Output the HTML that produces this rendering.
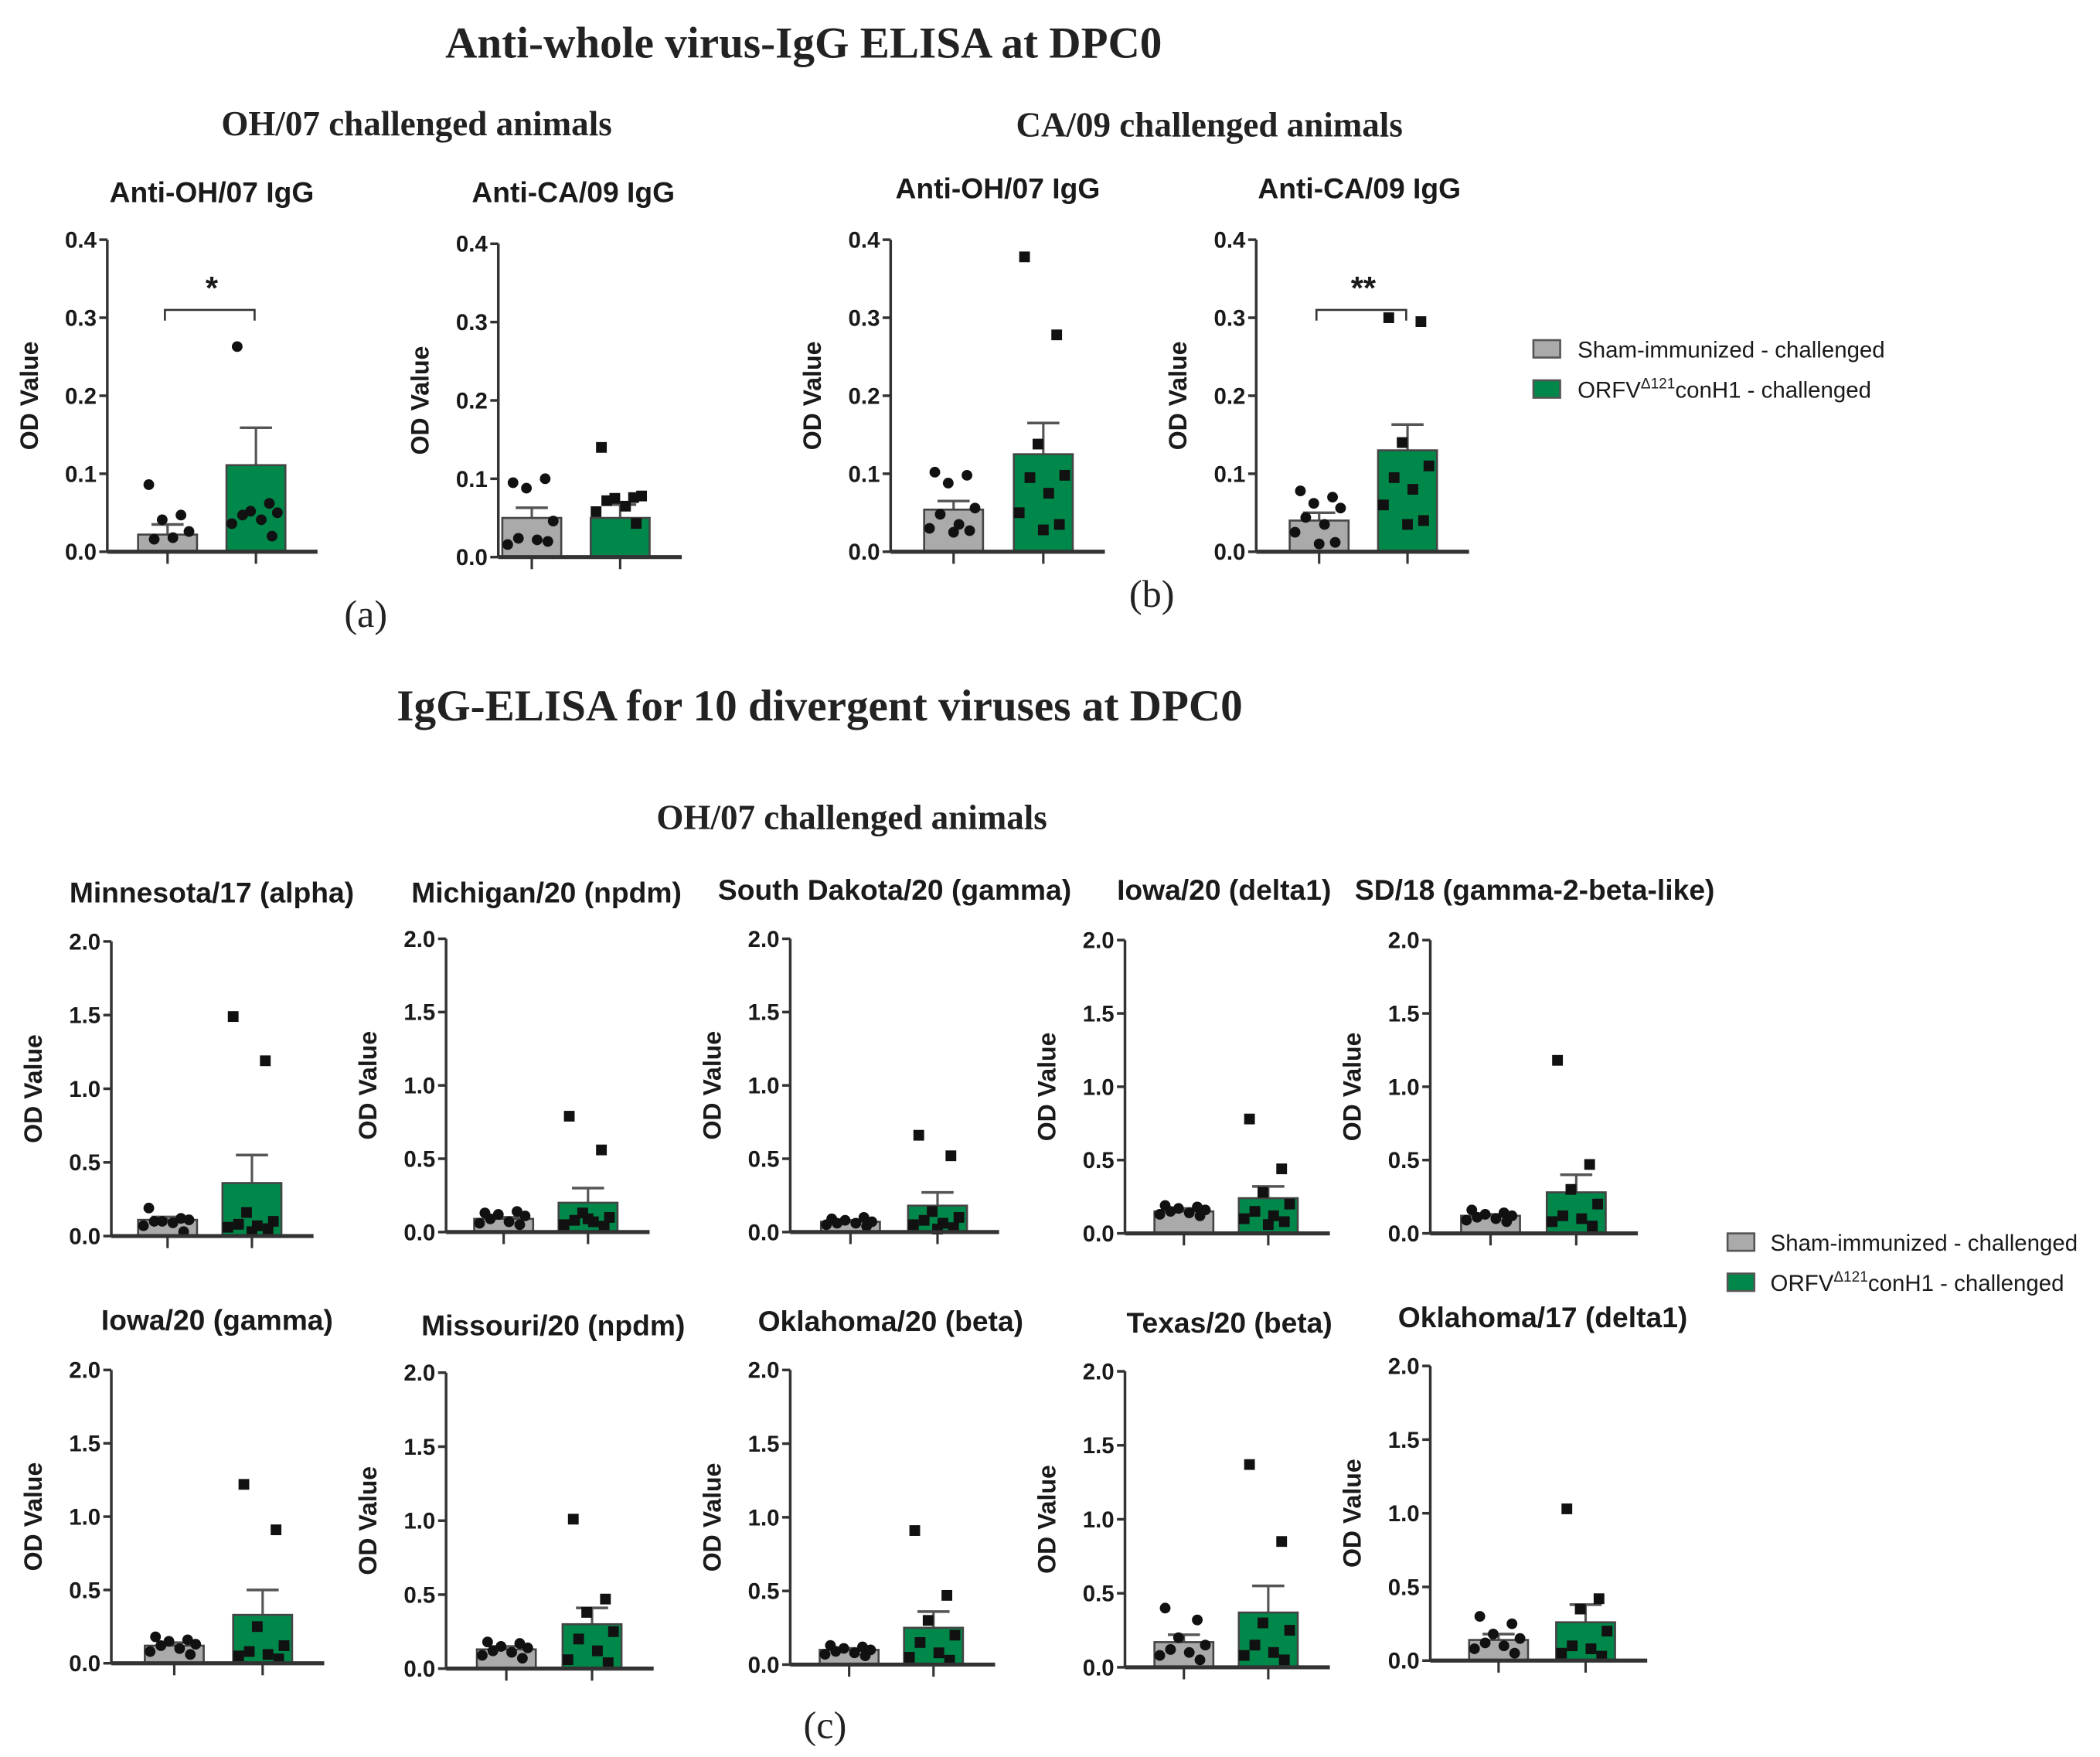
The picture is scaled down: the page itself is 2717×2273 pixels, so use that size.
<!DOCTYPE html>
<html><head><meta charset="utf-8"><style>
html,body{margin:0;padding:0;background:#fff;}
svg{display:block;}
.serif{font-family:"Liberation Serif",serif;fill:#222;}
.sans{font-family:"Liberation Sans",sans-serif;fill:#1a1a1a;}
</style></head><body>
<svg id="fig" width="2717" height="2273" viewBox="0 0 1568 1312" xmlns="http://www.w3.org/2000/svg">
<text class="serif" x="600" y="43" font-size="33" font-weight="bold" text-anchor="middle">Anti-whole virus-IgG ELISA at DPC0</text>
<text class="serif" x="311" y="101" font-size="26" font-weight="bold" text-anchor="middle">OH/07 challenged animals</text>
<text class="serif" x="903" y="102" font-size="26" font-weight="bold" text-anchor="middle">CA/09 challenged animals</text>
<text class="serif" x="273" y="468" font-size="29" text-anchor="middle">(a)</text>
<text class="serif" x="860" y="453" font-size="29" text-anchor="middle">(b)</text>
<text class="serif" x="612" y="538" font-size="33" font-weight="bold" text-anchor="middle">IgG-ELISA for 10 divergent viruses at DPC0</text>
<text class="serif" x="636" y="619" font-size="26" font-weight="bold" text-anchor="middle">OH/07 challenged animals</text>
<text class="serif" x="616" y="1298" font-size="29" text-anchor="middle">(c)</text>

<g>
<rect x="1145" y="254" width="20" height="13" fill="#aaa" stroke="#555" stroke-width="1.5"/>
<text class="sans" x="1178" y="267" font-size="17">Sham-immunized - challenged</text>
<rect x="1145" y="284" width="20" height="13" fill="#00884a" stroke="#555" stroke-width="1.5"/>
<text class="sans" x="1178" y="297" font-size="17">ORFV<tspan dy="-7" font-size="11">Δ121</tspan><tspan dy="7">conH1 - challenged</tspan></text>
</g>
<g>
<rect x="1290" y="921" width="20" height="13" fill="#aaa" stroke="#555" stroke-width="1.5"/>
<text class="sans" x="1322" y="934" font-size="17">Sham-immunized - challenged</text>
<rect x="1290" y="951" width="20" height="13" fill="#00884a" stroke="#555" stroke-width="1.5"/>
<text class="sans" x="1322" y="964" font-size="17">ORFV<tspan dy="-7" font-size="11">Δ121</tspan><tspan dy="7">conH1 - challenged</tspan></text>
</g>
</svg>
<script>
// ---- data ----
const panelTitles = ["Anti-OH/07 IgG","Anti-CA/09 IgG","Anti-OH/07 IgG","Anti-CA/09 IgG",
 "Minnesota/17 (alpha)","Michigan/20 (npdm)","South Dakota/20 (gamma)","Iowa/20 (delta1)","SD/18 (gamma-2-beta-like)",
 "Iowa/20 (gamma)","Missouri/20 (npdm)","Oklahoma/20 (beta)","Texas/20 (beta)","Oklahoma/17 (delta1)"];
const yMax = [0.4,0.4,0.4,0.4,2,2,2,2,2,2,2,2,2,2];
const tickLabelsSmall = ["0.0","0.1","0.2","0.3","0.4"];
const tickValuesSmall = [0,0.1,0.2,0.3,0.4];
const tickLabelsLarge = ["0.0","0.5","1.0","1.5","2.0"];
const tickValuesLarge = [0,0.5,1,1.5,2];
const shamMean = [0.022,0.050,0.054,0.040, 0.11,0.09,0.07,0.15,0.12, 0.12,0.13,0.10,0.17,0.14];
const shamSem  = [0.013,0.013,0.011,0.010, 0.02,0.01,0.01,0.02,0.01, 0.02,0.02,0.01,0.05,0.04];
const orfvMean = [0.111,0.050,0.125,0.130, 0.36,0.20,0.18,0.24,0.28, 0.33,0.30,0.25,0.37,0.26];
const orfvSem  = [0.048,0.017,0.040,0.033, 0.19,0.10,0.09,0.08,0.12, 0.17,0.11,0.11,0.18,0.12];
const orfvShape = ["circle","rect","rect","rect","rect","rect","rect","rect","rect","rect","rect","rect","rect","rect"];
const shamPoints = [
 [0.086,0.047,0.041,0.026,0.016,0.018],
 [0.095,0.100,0.088,0.046,0.024,0.022,0.016,0.020],
 [0.102,0.098,0.088,0.056,0.048,0.035,0.030,0.027,0.025],
 [0.078,0.070,0.062,0.056,0.044,0.035,0.025,0.012,0.010],
 [0.19,0.12,0.10,0.11,0.10,0.09,0.07,0.03],
 [0.13,0.14,0.12,0.11,0.09,0.07,0.06,0.05],
 [0.09,0.10,0.08,0.07,0.06,0.06,0.05,0.04],
 [0.19,0.18,0.17,0.16,0.15,0.14,0.13,0.12],
 [0.16,0.14,0.13,0.12,0.11,0.10,0.09,0.08],
 [0.18,0.16,0.15,0.13,0.12,0.10,0.08,0.06],
 [0.18,0.17,0.15,0.14,0.12,0.11,0.09,0.07],
 [0.13,0.12,0.11,0.10,0.09,0.08,0.07,0.06],
 [0.40,0.32,0.20,0.15,0.12,0.10,0.08,0.05],
 [0.30,0.25,0.18,0.15,0.12,0.10,0.08,0.05]];
const orfvPoints = [
 [0.263,0.062,0.052,0.050,0.047,0.041,0.036,0.020],
 [0.140,0.076,0.075,0.078,0.072,0.065,0.058,0.043],
 [0.378,0.278,0.138,0.098,0.095,0.075,0.050,0.035,0.028],
 [0.300,0.295,0.140,0.110,0.095,0.080,0.060,0.040,0.035],
 [1.49,1.19,0.16,0.10,0.08,0.07,0.06,0.05,0.03],
 [0.79,0.56,0.13,0.10,0.08,0.07,0.05,0.04,0.09],
 [0.66,0.52,0.14,0.10,0.08,0.06,0.05,0.03,0.02],
 [0.78,0.44,0.28,0.20,0.15,0.12,0.10,0.08,0.06],
 [1.18,0.47,0.30,0.20,0.12,0.10,0.08,0.05],
 [1.22,0.91,0.25,0.12,0.08,0.06,0.05,0.03],
 [1.01,0.47,0.38,0.25,0.20,0.12,0.06,0.04],
 [0.91,0.47,0.30,0.20,0.15,0.08,0.05,0.03],
 [1.37,0.85,0.30,0.25,0.15,0.10,0.08,0.05],
 [1.03,0.42,0.35,0.20,0.10,0.08,0.05,0.03]];
const sigLabels = ["*","","","**","","","","","","","","","",""];
const sigLevel = 0.31;
// ---- layout (pixels, not data) ----
const layout = [
 {ax:80,y0:412,yt:179,gx:125,ox:191,tx:158,ty:151},
 {ax:372,y0:416,yt:182,gx:397,ox:463,tx:428,ty:151},
 {ax:665,y0:412,yt:179,gx:712,ox:779,tx:745,ty:148},
 {ax:938,y0:412,yt:179,gx:985,ox:1051,tx:1015,ty:148},
 {ax:83,y0:923,yt:703,gx:125,ox:188,tx:158,ty:674},
 {ax:333,y0:920,yt:701,gx:376,ox:439,tx:408,ty:674},
 {ax:590,y0:920,yt:701,gx:635,ox:700,tx:668,ty:672},
 {ax:840,y0:921,yt:702,gx:884,ox:947,tx:914,ty:672},
 {ax:1068,y0:921,yt:702,gx:1113,ox:1177,tx:1146,ty:672},
 {ax:83,y0:1242,yt:1023,gx:130,ox:196,tx:162,ty:993},
 {ax:333,y0:1246,yt:1025,gx:378,ox:442,tx:413,ty:997},
 {ax:590,y0:1243,yt:1023,gx:634,ox:697,tx:665,ty:994},
 {ax:840,y0:1245,yt:1024,gx:884,ox:947,tx:918,ty:995},
 {ax:1068,y0:1240,yt:1020,gx:1119,ox:1184,tx:1152,ty:991}];
const NS='http://www.w3.org/2000/svg';
const svg=document.getElementById('fig');
function mk(tag,attrs,parent){const e=document.createElementNS(NS,tag);for(const k in attrs)e.setAttribute(k,attrs[k]);parent.appendChild(e);return e;}
const jit=[-14,10,-4,16,-10,4,-18,12,0];
panelTitles.forEach((t,i)=>{
  const L=layout[i];
  const g=mk('g',{},svg);
  
  
  const y=v=>L.y0-(v/yMax[i])*(L.y0-L.yt);
  const tt=mk('text',{x:L.tx,y:L.ty,'font-size':21.5,'font-weight':'bold','text-anchor':'middle',class:'sans'},g);
  tt.textContent=t;
  
  
  const yl=mk('text',{x:0,y:0,'font-size':18.5,'font-weight':'bold','text-anchor':'middle',class:'sans',transform:`translate(${L.ax-52},${(L.y0+L.yt)/2}) rotate(-90)`},g);
  yl.textContent='OD Value';
  
  
  const tv=yMax[i]<1?tickValuesSmall:tickValuesLarge, tl=yMax[i]<1?tickLabelsSmall:tickLabelsLarge;
  tv.forEach((v,k)=>{
    mk('line',{x1:L.ax-6,x2:L.ax,y1:y(v),y2:y(v),stroke:'#333','stroke-width':2},g);
    const lab=mk('text',{x:L.ax-8,y:y(v)+6,'font-size':17,'font-weight':'bold','text-anchor':'end',class:'sans'},g);
    lab.textContent=tl[k];
    
    
  });
  const bw=44;
  [[L.gx,shamMean[i],shamSem[i],'#aaaaaa',shamPoints[i],'circle','bar-sham'],[L.ox,orfvMean[i],orfvSem[i],'#00884a',orfvPoints[i],orfvShape[i],'bar-orfv']].forEach(([cx,m,s,col,pts,shape,nm])=>{
    mk('line',{x1:cx,x2:cx,y1:y(m),y2:y(m+s),stroke:'#555','stroke-width':1.8},g);
    mk('line',{x1:cx-12,x2:cx+12,y1:y(m+s),y2:y(m+s),stroke:'#555','stroke-width':2},g);
    const b=mk('rect',{x:cx-bw/2,y:y(m),width:bw,height:L.y0-y(m),fill:col,stroke:'#444','stroke-width':1.5},g);
    
    
    pts.forEach((v,k)=>{
      const px=cx+jit[k%jit.length];
      let p;
      if(shape==='circle') p=mk('circle',{cx:px,cy:y(v),r:4,fill:'#111'},g);
      else p=mk('rect',{x:px-4,y:y(v)-4,width:8,height:8,fill:'#111'},g);
      
      
    });
    mk('line',{x1:cx,x2:cx,y1:L.y0,y2:L.y0+9,stroke:'#333','stroke-width':1.8},g);
  });
  mk('line',{x1:L.ax,x2:L.ax,y1:L.yt,y2:L.y0,stroke:'#333','stroke-width':2},g);
  mk('line',{x1:L.ax,x2:L.ox+bw/2+24,y1:L.y0,y2:L.y0,stroke:'#333','stroke-width':3},g);
  if(sigLabels[i]){
    const sy=y(sigLevel);
    mk('path',{d:`M${L.gx-2},${sy+8}V${sy}H${L.ox-1}V${sy+8}`,fill:'none',stroke:'#333','stroke-width':1.5},g);
    const st=mk('text',{x:(L.gx+L.ox)/2,y:sy-8,'font-size':24,'font-weight':'bold','text-anchor':'middle',class:'sans'},g);
    st.textContent=sigLabels[i];
    
    
  }
});
</script>
</body></html>
